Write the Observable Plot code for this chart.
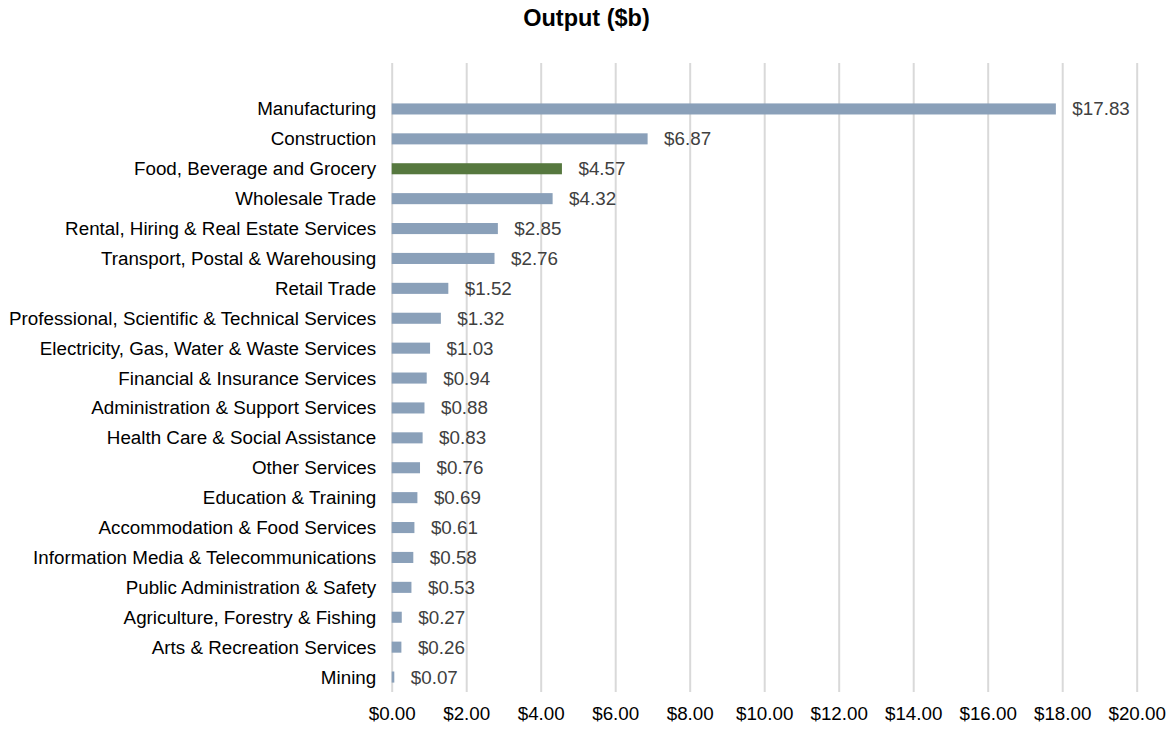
<!DOCTYPE html>
<html>
<head>
<meta charset="utf-8">
<script src="https://cdn.jsdelivr.net/npm/d3@7"></script>
<script src="https://cdn.jsdelivr.net/npm/@observablehq/plot@0.6"></script>
<style>
  body { margin: 0; background: #fff; font-family: "Liberation Sans", Arial, sans-serif; }
  #title { height: 38px; line-height: 37px; text-align: center; font-weight: bold; font-size: 23.5px; color: #000; overflow: hidden; }
</style>
</head>
<body>
<div id="title">Output ($b)</div>
<div id="chart"></div>
<script>
const categories = [
  "Manufacturing",
  "Construction",
  "Food, Beverage and Grocery",
  "Wholesale Trade",
  "Rental, Hiring & Real Estate Services",
  "Transport, Postal & Warehousing",
  "Retail Trade",
  "Professional, Scientific & Technical Services",
  "Electricity, Gas, Water & Waste Services",
  "Financial & Insurance Services",
  "Administration & Support Services",
  "Health Care & Social Assistance",
  "Other Services",
  "Education & Training",
  "Accommodation & Food Services",
  "Information Media & Telecommunications",
  "Public Administration & Safety",
  "Agriculture, Forestry & Fishing",
  "Arts & Recreation Services",
  "Mining"
];
const values = [17.83, 6.87, 4.57, 4.32, 2.85, 2.76, 1.52, 1.32, 1.03, 0.94, 0.88, 0.83, 0.76, 0.69, 0.61, 0.58, 0.53, 0.27, 0.26, 0.07];
const highlight = "Food, Beverage and Grocery";
const xTicks = [0, 2, 4, 6, 8, 10, 12, 14, 16, 18, 20];

const data = categories.map((c, i) => ({category: c, value: values[i]}));
const fmt = v => "$" + v.toFixed(2);
const FS = 18.8;

const chart = Plot.plot({
  width: 1173,
  height: 691,
  marginLeft: 391.7,
  marginRight: 36.3,
  marginTop: 25,
  marginBottom: 37,
  style: {fontFamily: "'Liberation Sans', Arial, sans-serif", fontSize: FS + "px", color: "#000", background: "#fff"},
  x: {domain: [0, 20], ticks: xTicks, tickFormat: fmt, label: null},
  y: {domain: categories, insetTop: 31, insetBottom: 0, paddingInner: 0.63, paddingOuter: 0.315, round: false, label: null},
  marks: [
    Plot.ruleX(xTicks, {stroke: "#d9d9d9", strokeWidth: 2}),
    Plot.barX(data, {y: "category", x: "value", fill: d => d.category === highlight ? "#56783f" : "#8aa0b9"}),
    Plot.text(data, {y: "category", x: "value", text: d => fmt(d.value), textAnchor: "start", dx: 16, fill: "#404040", fontSize: FS}),
    Plot.axisY({tickSize: 0, tickPadding: 16, fontSize: FS, label: null, fill: "#000"}),
    Plot.axisX({tickSize: 0, tickPadding: 14, fontSize: FS, label: null, tickFormat: fmt, fill: "#000"})
  ]
});
document.getElementById("chart").appendChild(chart);
</script>
</body>
</html>
